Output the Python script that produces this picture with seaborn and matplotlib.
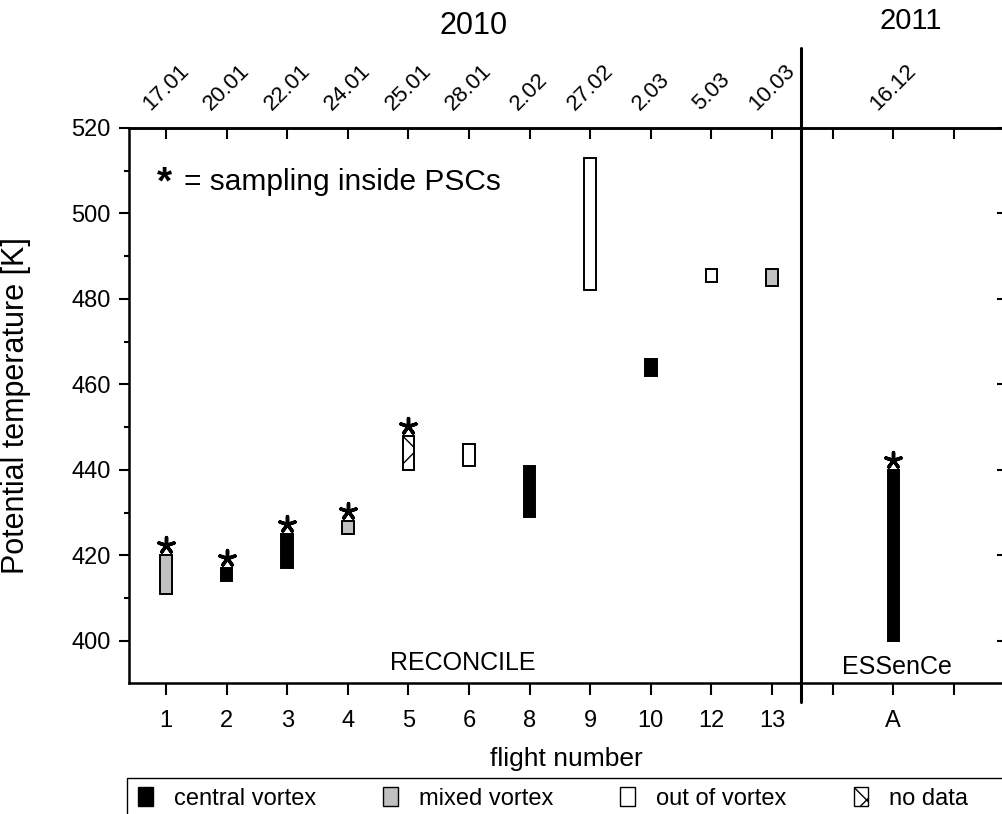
import pandas as pd
import matplotlib
matplotlib.use("Agg")
import matplotlib.pyplot as plt
from matplotlib.patches import Patch, Rectangle
from matplotlib.ticker import MultipleLocator
import seaborn as sns

# ==================================================
# DATA
# ==================================================

flights = ["1", "2", "3", "4", "5", "6", "8", "9", "10", "12", "13", "A"]
dates = ["17.01", "20.01", "22.01", "24.01", "25.01", "28.01",
         "2.02", "27.02", "2.03", "5.03", "10.03", "16.12"]
theta_low = [411, 414, 417, 425, 440, 441, 429, 482, 462, 484, 483, 400]
theta_high = [420, 417, 425, 428, 448, 446, 441, 513, 466, 487, 487, 440]
vortex = ["mixed", "central", "central", "mixed", "no data", "out",
          "central", "out", "central", "out", "mixed", "central"]
in_psc = [True, True, True, True, True, False,
          False, False, False, False, False, True]

campaigns = ["RECONCILE", "ESSenCe"]
years = ["2010", "2011"]

# ==================================================
# STYLE
# ==================================================

sns.set_theme(style="ticks")
plt.rcParams["font.family"] = ["Liberation Sans", "DejaVu Sans"]
plt.rcParams["hatch.linewidth"] = 1.0
plt.rcParams["axes.linewidth"] = 1.8
for key in ["text.color", "axes.labelcolor", "xtick.color", "ytick.color",
            "axes.edgecolor"]:
    plt.rcParams[key] = "black"

fill = {"central": "black", "mixed": "#c0c0c0", "out": "white", "no data": "white"}
hatch = {"central": None, "mixed": None, "out": None, "no data": "x"}

# slot 12 is left empty, A sits at 13
df = pd.DataFrame({
    "flight": flights,
    "date": dates,
    "low": theta_low,
    "high": theta_high,
    "vortex": vortex,
    "psc": in_psc,
})
df["pos"] = list(range(1, 12)) + [13]

# ==================================================
# PLOT
# ==================================================

fig = plt.figure(figsize=(10.02, 8.14), dpi=100)
ax = fig.add_axes([0.1287, 0.1609, 0.8723, 0.6819])

for _, row in df.iterrows():
    ax.bar(
        row["pos"],
        row["high"] - row["low"],
        bottom=row["low"],
        width=0.19,
        color=fill[row["vortex"]],
        edgecolor="black",
        linewidth=1.4,
        hatch=hatch[row["vortex"]],
        zorder=3,
    )

stars = df[df["psc"]].copy()
stars["star_y"] = stars["high"] + 2.3
sns.scatterplot(
    data=stars, x="pos", y="star_y", ax=ax,
    marker=(5, 2, 0), s=130, color="black", linewidth=2.5,
    legend=False, zorder=4,
)

ax.set_xlim(0.389, 14.81)
ax.set_ylim(390.1, 520)

# bottom axis
ax.set_xticks(list(range(1, 15)))
ax.set_xticklabels(flights[:11] + ["", "A", ""], fontsize=17)
ax.tick_params(axis="x", direction="out", length=8.6, width=1.5, pad=11)
ax.yaxis.set_major_locator(MultipleLocator(20))
ax.yaxis.set_minor_locator(MultipleLocator(10))
ax.tick_params(axis="y", which="major", direction="out", length=7.2,
               width=1.5, labelsize=17, pad=6)
ax.tick_params(axis="y", which="minor", direction="out", length=3.6,
               width=1.5, left=True)

# top axis with dates
top = ax.secondary_xaxis("top")
top.set_xticks(list(range(1, 15)))
top.set_xticklabels(dates[:11] + ["", dates[11], ""], rotation=45, fontsize=16)
top.tick_params(direction="in", length=8, width=1.5, pad=10)

# right axis ticks only
right = ax.secondary_yaxis("right")
right.yaxis.set_major_locator(MultipleLocator(20))
right.tick_params(direction="in", length=4.3, width=1.5, labelright=False)

ax.set_xlabel("flight number", fontsize=19)
ax.xaxis.set_label_coords(0.5, -0.115)
ax.set_ylabel("Potential temperature [K]", fontsize=22)
ax.yaxis.set_label_coords(-0.112, 0.5)

# campaign separator
ax.axvline(11.47, ymin=-0.034, ymax=1.144, color="black", lw=2.2,
           clip_on=False, zorder=5)

xt = ax.get_xaxis_transform()
ax.text(5.9, 394.8, campaigns[0], fontsize=18, ha="center", va="center")
ax.text(13.06, 393.8, campaigns[1], fontsize=18, ha="center", va="center")
ax.text(6.08, 1.184, years[0], fontsize=22, ha="center", va="center",
        transform=xt)
ax.text(13.29, 1.193, years[1], fontsize=21, ha="center", va="center",
        transform=xt)

ax.text(0.98, 507.0, "*", fontsize=28, ha="center", va="center",
        fontweight="bold")
ax.text(1.29, 507.3, "= sampling inside PSCs", fontsize=21.5, ha="left",
        va="center")

# ==================================================
# LEGEND
# ==================================================

handles = [
    Patch(facecolor=fill[k], edgecolor="black", hatch=hatch[k], linewidth=1.0)
    for k in ["central", "mixed", "out", "no data"]
]
labels = ["central vortex", "mixed vortex", "out of vortex", "no data"]

fig.legend(
    handles, labels,
    loc="upper left",
    bbox_to_anchor=(129 / 1002, 1 - 778 / 814),
    ncol=4,
    fontsize=17,
    frameon=False,
    borderaxespad=0,
    handlelength=0.6,
    handleheight=0.8,
    handletextpad=0.9,
    columnspacing=2.85,
)

# legend box runs past the right edge of the figure
fig.patches.append(Rectangle(
    (127 / 1002, -0.05), 0.9, 0.05 + 1 - 778 / 814,
    transform=fig.transFigure, fill=False, edgecolor="black", linewidth=1.0,
))

fig.savefig("out.png", dpi=100)
plt.close(fig)
